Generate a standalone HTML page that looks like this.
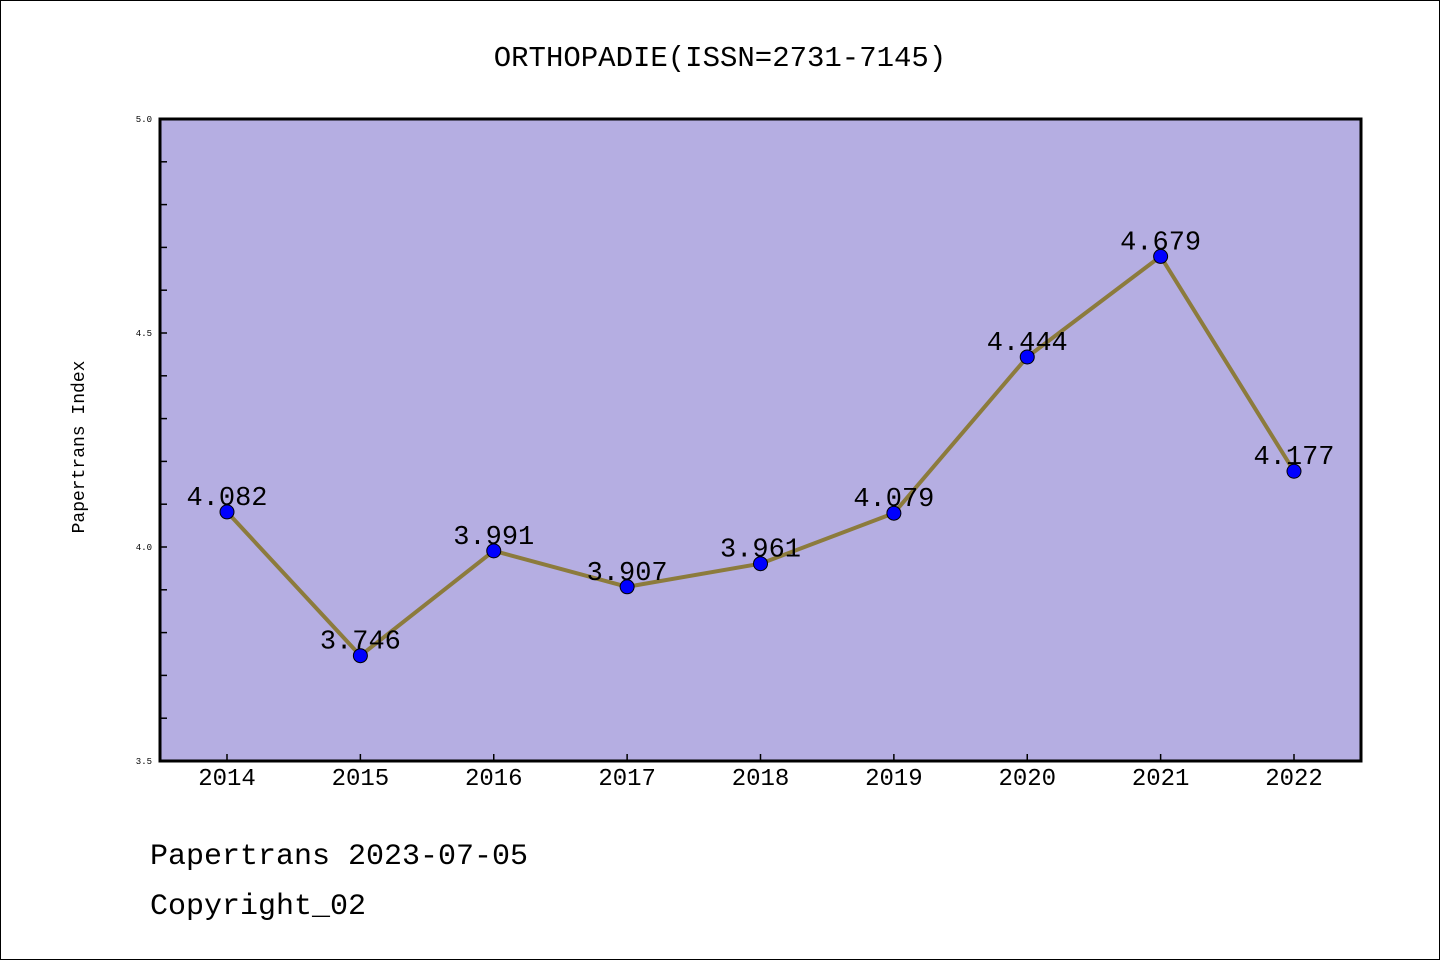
<!DOCTYPE html>
<html><head><meta charset="utf-8"><style>
html,body{margin:0;padding:0;background:#fff;}
svg{display:block;}
text{font-family:"Liberation Mono","DejaVu Sans Mono",monospace;fill:#000;}
</style></head><body>
<svg id="chart" width="1440" height="960" xmlns="http://www.w3.org/2000/svg">
<rect x="0.5" y="0.5" width="1439" height="959" fill="#fff" stroke="#000" stroke-width="1"/>
<text x="720" y="66" font-size="29" text-anchor="middle">ORTHOPADIE(ISSN=2731-7145)</text>
<rect x="160" y="119" width="1201" height="642" fill="#b5aee2"/>
<g id="ticks"></g>
<g id="series"></g>
<rect x="160" y="119" width="1201" height="642" fill="none" stroke="#000" stroke-width="3"/>
<text transform="translate(84,447) rotate(-90)" font-size="18" text-anchor="middle">Papertrans Index</text>
<text x="150" y="864" font-size="30">Papertrans 2023-07-05</text>
<text x="150" y="914" font-size="30">Copyright_02</text>
</svg>
<script>
const categories = ["2014","2015","2016","2017","2018","2019","2020","2021","2022"];
const values = [4.082,3.746,3.991,3.907,3.961,4.079,4.444,4.679,4.177];
const valueLabels = ["4.082","3.746","3.991","3.907","3.961","4.079","4.444","4.679","4.177"];
const yTickLabels = ["3.5","4.0","4.5","5.0"];
const yMin = 3.5, yMax = 5.0;
const NS = "http://www.w3.org/2000/svg";
const L = 160, R = 1361, T = 119, B = 761;
function xs(i){ return 227 + i * (1294 - 227) / (categories.length - 1); }
function ys(v){ return B - (v - yMin) / (yMax - yMin) * (B - T); }
function mk(tag, attrs, parent){ const e = document.createElementNS(NS, tag); for (const k in attrs) e.setAttribute(k, attrs[k]); parent.appendChild(e); return e; }
const tg = document.getElementById('ticks');
for (let k = 0; k <= 15; k++) {
  const v = yMin + k * 0.1;
  const t = mk('line', {x1:L, x2:L+7, y1:ys(v), y2:ys(v), stroke:'#000', 'stroke-width':1.5}, tg);
  
  
}
yTickLabels.forEach(s => {
  const t = mk('text', {x:152, y:ys(parseFloat(s))+3, 'font-size':9, 'text-anchor':'end', 'font-family':'Liberation Sans, sans-serif'}, tg);
  t.textContent = s;
  
  
});
categories.forEach((c, i) => {
  const t = mk('line', {x1:xs(i), x2:xs(i), y1:B, y2:B-7, stroke:'#000', 'stroke-width':1.5}, tg);
  
  
  const l = mk('text', {x:xs(i), y:785, 'font-size':24, 'text-anchor':'middle'}, tg);
  l.textContent = c;
  
  
});
const sg = document.getElementById('series');
const pts = values.map((v, i) => xs(i) + ',' + ys(v)).join(' ');
const line = mk('polyline', {points:pts, fill:'none', stroke:'#8c7b3c', 'stroke-width':4, 'stroke-linejoin':'round'}, sg);


values.forEach((v, i) => {
  const c = mk('circle', {cx:xs(i), cy:ys(v), r:7, fill:'#0000ff', stroke:'#000', 'stroke-width':1}, sg);
  
  
  const t = mk('text', {x:xs(i), y:ys(v)-7, 'font-size':27, 'text-anchor':'middle'}, sg);
  t.textContent = valueLabels[i];
  
  
});
</script>
</body></html>
